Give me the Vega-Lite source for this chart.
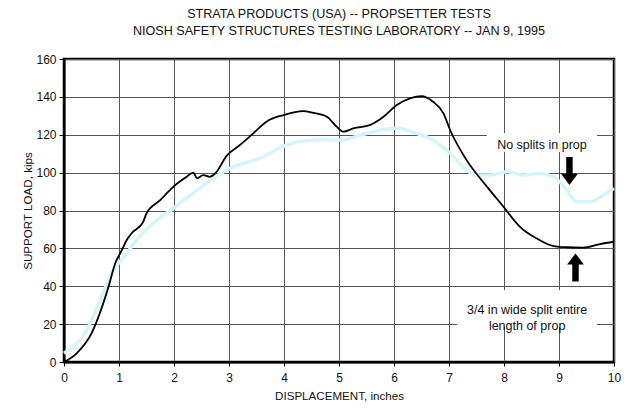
{
  "$schema": "https://vega.github.io/schema/vega-lite/v6.json",
  "autosize": "none",
  "width": 550,
  "height": 303,
  "padding": {"left": 64, "top": 59, "right": 10, "bottom": 47},
  "background": "white",
  "config": {
    "font": "Liberation Sans",
    "view": {"stroke": "#000", "strokeWidth": 2.5},
    "axis": {
      "labelFont": "Liberation Sans",
      "titleFont": "Liberation Sans",
      "labelFontSize": 12,
      "titleFontSize": 11.6,
      "titleFontWeight": "normal",
      "labelColor": "#111",
      "titleColor": "#111",
      "gridColor": "#555",
      "gridOpacity": 1,
      "gridWidth": 1,
      "domainColor": "#000",
      "domainWidth": 2,
      "tickColor": "#000",
      "labelOverlap": false
    }
  },
  "title": {
    "text": ["STRATA PRODUCTS (USA)  -- PROPSETTER TESTS", "NIOSH SAFETY STRUCTURES TESTING LABORATORY -- JAN 9, 1995"],
    "font": "Liberation Sans",
    "fontSize": 12.6,
    "fontWeight": "normal",
    "color": "#111",
    "offset": 15,
    "lineHeight": 17,
    "anchor": "middle"
  },
  "datasets": {
    "curves": [
      {"s": "cyan", "x": 0.0, "y": 4.6},
      {"s": "cyan", "x": 0.17, "y": 8.1},
      {"s": "cyan", "x": 0.38, "y": 15.1},
      {"s": "cyan", "x": 0.53, "y": 23.9},
      {"s": "cyan", "x": 0.71, "y": 36.3},
      {"s": "cyan", "x": 0.9, "y": 48.6},
      {"s": "cyan", "x": 0.99, "y": 52.0},
      {"s": "cyan", "x": 1.14, "y": 57.4},
      {"s": "cyan", "x": 1.32, "y": 64.4},
      {"s": "cyan", "x": 1.62, "y": 73.2},
      {"s": "cyan", "x": 1.99, "y": 81.2},
      {"s": "cyan", "x": 2.35, "y": 89.1},
      {"s": "cyan", "x": 2.71, "y": 97.0},
      {"s": "cyan", "x": 3.02, "y": 102.3},
      {"s": "cyan", "x": 3.56, "y": 107.6},
      {"s": "cyan", "x": 4.05, "y": 114.6},
      {"s": "cyan", "x": 4.29, "y": 116.5},
      {"s": "cyan", "x": 4.65, "y": 117.4},
      {"s": "cyan", "x": 5.02, "y": 117.2},
      {"s": "cyan", "x": 5.5, "y": 120.7},
      {"s": "cyan", "x": 6.05, "y": 123.4},
      {"s": "cyan", "x": 6.41, "y": 120.7},
      {"s": "cyan", "x": 6.71, "y": 117.2},
      {"s": "cyan", "x": 7.02, "y": 110.2},
      {"s": "cyan", "x": 7.32, "y": 101.4},
      {"s": "cyan", "x": 7.5, "y": 98.7},
      {"s": "cyan", "x": 7.75, "y": 98.7},
      {"s": "cyan", "x": 8.05, "y": 100.5},
      {"s": "cyan", "x": 8.35, "y": 98.7},
      {"s": "cyan", "x": 8.65, "y": 99.6},
      {"s": "cyan", "x": 8.9, "y": 97.8},
      {"s": "cyan", "x": 9.14, "y": 90.8},
      {"s": "cyan", "x": 9.32, "y": 84.6},
      {"s": "cyan", "x": 9.56, "y": 84.6},
      {"s": "cyan", "x": 9.81, "y": 88.2},
      {"s": "cyan", "x": 10.0, "y": 91.7},
      {"s": "black", "x": 0.0, "y": 0.0},
      {"s": "black", "x": 0.23, "y": 4.6},
      {"s": "black", "x": 0.5, "y": 15.1},
      {"s": "black", "x": 0.65, "y": 25.7},
      {"s": "black", "x": 0.81, "y": 39.8},
      {"s": "black", "x": 0.93, "y": 52.0},
      {"s": "black", "x": 1.05, "y": 59.0},
      {"s": "black", "x": 1.14, "y": 64.4},
      {"s": "black", "x": 1.23, "y": 68.0},
      {"s": "black", "x": 1.44, "y": 74.0},
      {"s": "black", "x": 1.5, "y": 78.5},
      {"s": "black", "x": 1.75, "y": 85.5},
      {"s": "black", "x": 1.99, "y": 92.6},
      {"s": "black", "x": 2.23, "y": 97.8},
      {"s": "black", "x": 2.35, "y": 100.0},
      {"s": "black", "x": 2.42, "y": 97.0},
      {"s": "black", "x": 2.53, "y": 98.7},
      {"s": "black", "x": 2.65, "y": 97.8},
      {"s": "black", "x": 2.75, "y": 99.6},
      {"s": "black", "x": 2.96, "y": 109.0},
      {"s": "black", "x": 3.2, "y": 114.6},
      {"s": "black", "x": 3.44, "y": 120.7},
      {"s": "black", "x": 3.68, "y": 126.9},
      {"s": "black", "x": 3.99, "y": 130.4},
      {"s": "black", "x": 4.35, "y": 132.5},
      {"s": "black", "x": 4.53, "y": 131.6},
      {"s": "black", "x": 4.78, "y": 129.5},
      {"s": "black", "x": 4.96, "y": 124.2},
      {"s": "black", "x": 5.08, "y": 121.6},
      {"s": "black", "x": 5.26, "y": 123.4},
      {"s": "black", "x": 5.56, "y": 125.1},
      {"s": "black", "x": 5.81, "y": 129.5},
      {"s": "black", "x": 6.05, "y": 135.7},
      {"s": "black", "x": 6.29, "y": 139.2},
      {"s": "black", "x": 6.5, "y": 140.4},
      {"s": "black", "x": 6.71, "y": 137.4},
      {"s": "black", "x": 6.9, "y": 131.3},
      {"s": "black", "x": 7.02, "y": 122.5},
      {"s": "black", "x": 7.32, "y": 106.6},
      {"s": "black", "x": 7.69, "y": 92.6},
      {"s": "black", "x": 7.99, "y": 82.0},
      {"s": "black", "x": 8.29, "y": 71.4},
      {"s": "black", "x": 8.59, "y": 65.3},
      {"s": "black", "x": 8.9, "y": 61.2},
      {"s": "black", "x": 9.14, "y": 60.6},
      {"s": "black", "x": 9.44, "y": 60.4},
      {"s": "black", "x": 9.75, "y": 62.3},
      {"s": "black", "x": 10.0, "y": 63.5}
    ],
    "boxes": [
      {"x": 7.69, "x2": 9.69, "y": 110.9, "y2": 120.9},
      {"x": 7.15, "x2": 9.69, "y": 18.5, "y2": 38.0}
    ],
    "notes": [
      {"x": 8.69, "y": 114.6, "label": "No splits in prop"},
      {"x": 8.42, "y": 27.7, "label": "3/4 in wide split entire\nlength of prop"}
    ],
    "arrows": [
      {"dir": "down", "x": 9.19, "y": 100.9},
      {"dir": "up", "x": 9.3, "y": 49.9}
    ]
  },
  "encoding": {
    "x": {"field": "x", "type": "quantitative", "scale": {"domain": [0, 10], "nice": false},
      "axis": {"title": "DISPLACEMENT, inches", "values": [0,1,2,3,4,5,6,7,8,9,10], "grid": true, "tickSize": 4, "labelPadding": 6, "titlePadding": 7, "labelFlush": false}},
    "y": {"field": "y", "type": "quantitative", "scale": {"domain": [0, 160], "nice": false},
      "axis": {"title": "SUPPORT LOAD, kips", "values": [0,20,40,60,80,100,120,140,160], "grid": true, "tickSize": 5, "labelPadding": 3, "titlePadding": 2}}
  },
  "layer": [
    {
      "data": {"name": "boxes"},
      "mark": {"type": "rect", "fill": "white", "stroke": null},
      "encoding": {
        "x2": {"field": "x2"},
        "y2": {"field": "y2"}
      }
    },
    {
      "data": {"name": "curves"},
      "transform": [{"filter": "datum.s === 'cyan'"}],
      "mark": {"type": "line", "color": "#d6f5fa", "strokeWidth": 3.5, "interpolate": "monotone"}
    },
    {
      "data": {"name": "curves"},
      "transform": [{"filter": "datum.s === 'black'"}],
      "mark": {"type": "line", "color": "#000", "strokeWidth": 1.8, "interpolate": "monotone"}
    },
    {
      "data": {"name": "notes"},
      "mark": {"type": "text", "font": "Liberation Sans", "fontSize": 12.5, "color": "#111", "lineBreak": "\n", "lineHeight": 16, "align": "center", "baseline": "middle"},
      "encoding": {
        "text": {"field": "label"}
      }
    },
    {
      "data": {"name": "arrows"},
      "transform": [{"filter": "datum.dir === 'down'"}],
      "mark": {"type": "point", "filled": true, "color": "#000", "opacity": 1, "size": 784,
        "shape": "M-0.23,-1L0.23,-1L0.23,0.21L0.6,0.21L0,1L-0.6,0.21L-0.23,0.21Z"}
    },
    {
      "data": {"name": "arrows"},
      "transform": [{"filter": "datum.dir === 'up'"}],
      "mark": {"type": "point", "filled": true, "color": "#000", "opacity": 1, "size": 784,
        "shape": "M-0.23,1L0.23,1L0.23,-0.21L0.6,-0.21L0,-1L-0.6,-0.21L-0.23,-0.21Z"}
    }
  ]
}
